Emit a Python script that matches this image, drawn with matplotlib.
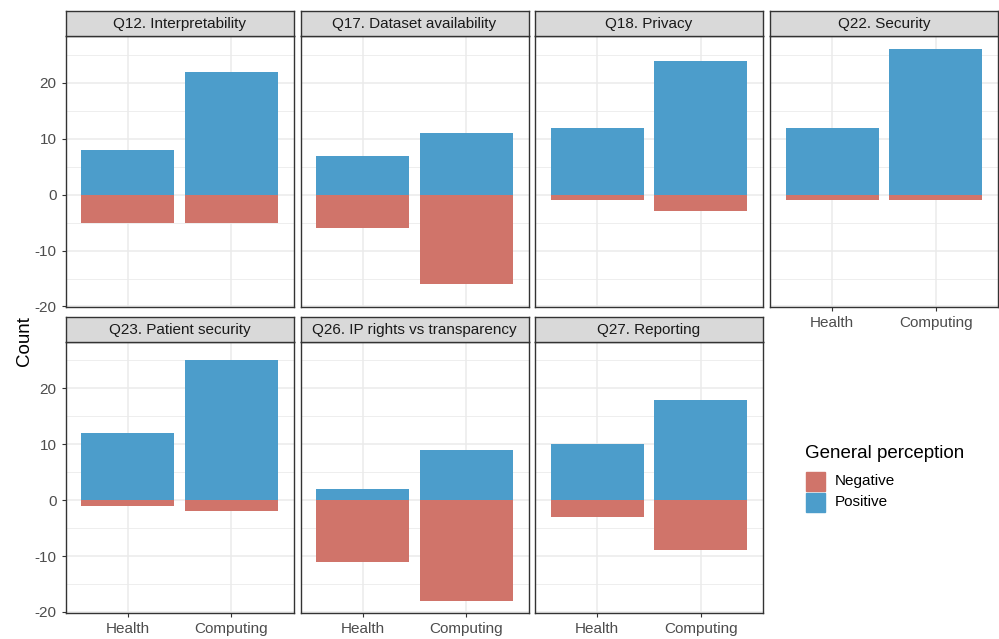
import numpy as np
import matplotlib.pyplot as plt

plt.rcParams['font.family'] = ['Liberation Sans', 'DejaVu Sans']

# Данные
questions = ['Q12. Interpretability', 'Q17. Dataset availability', 'Q18. Privacy',
             'Q22. Security', 'Q23. Patient security', 'Q26. IP rights vs transparency',
             'Q27. Reporting']
groups = ['Health', 'Computing']
positive = [[8, 22], [7, 11], [12, 24], [12, 26], [12, 25], [2, 9], [10, 18]]
negative = [[-5, -5], [-6, -16], [-1, -3], [-1, -1], [-1, -2], [-11, -18], [-3, -9]]

col_pos = '#4C9DCB'
col_neg = '#D0746A'
W, H = 999, 639

fig = plt.figure(figsize=(W / 100, H / 100), dpi=100)

# положение панелей в пикселях
lefts = [65.5, 300.5, 535, 770]
pw = 228
tops = [36, 341.5]
ph = 271
strip_h = 25

ymin, ymax = -20.1, 28.4
x = np.arange(1, 3)

for i, q in enumerate(questions):
    r, c = divmod(i, 4)
    l, t = lefts[c], tops[r]
    ax = fig.add_axes([l / W, 1 - (t + ph) / H, pw / W, ph / H])
    ax.set_axisbelow(True)
    ax.bar(x, positive[i], width=0.9, color=col_pos, zorder=2)
    ax.bar(x, negative[i], width=0.9, color=col_neg, zorder=2)
    ax.set_xlim(0.4, 2.6)
    ax.set_ylim(ymin, ymax)
    ax.set_yticks([-20, -10, 0, 10, 20])
    ax.set_yticks([-15, -5, 5, 15, 25], minor=True)
    ax.set_xticks(x)
    ax.grid(True, which='major', color='#EBEBEB', lw=1.1)
    ax.grid(True, which='minor', axis='y', color='#EBEBEB', lw=0.6)
    ax.tick_params(which='minor', length=0)
    ax.tick_params(colors='#333333', labelcolor='#4D4D4D', labelsize=11, length=3, width=0.8)
    for s in ax.spines.values():
        s.set_color('#333333')
        s.set_linewidth(1.0)
    if c == 0:
        ax.set_yticklabels(['-20', '-10', '0', '10', '20'])
    else:
        ax.tick_params(axis='y', left=False, labelleft=False)
    # подписи оси x только у нижних панелей
    if r == 1 or c == 3:
        ax.set_xticklabels(groups)
    else:
        ax.tick_params(axis='x', bottom=False, labelbottom=False)

    # заголовок панели (strip)
    sax = fig.add_axes([l / W, 1 - t / H, pw / W, strip_h / H])
    sax.set_facecolor('#D9D9D9')
    sax.set_xticks([])
    sax.set_yticks([])
    for s in sax.spines.values():
        s.set_color('#333333')
        s.set_linewidth(1.0)
    sax.text(0.5, 0.48, q, ha='center', va='center', fontsize=11, color='#1A1A1A',
             transform=sax.transAxes)

fig.text(25 / W, 1 - 341 / H, 'Count', rotation=90, ha='center', va='center', fontsize=13.5)

# легенда
fig.text(805 / W, 1 - 453 / H, 'General perception', ha='left', va='center', fontsize=13.5)
for k, (lab, col) in enumerate([('Negative', col_neg), ('Positive', col_pos)]):
    y0 = 472 + k * 21
    fig.patches.append(plt.Rectangle((806 / W, 1 - (y0 + 19) / H), 19 / W, 19 / H,
                                     transform=fig.transFigure, color=col))
    fig.text(835 / W, 1 - (y0 + 9.5) / H, lab, ha='left', va='center', fontsize=11)

plt.savefig('out.png', dpi=100)
